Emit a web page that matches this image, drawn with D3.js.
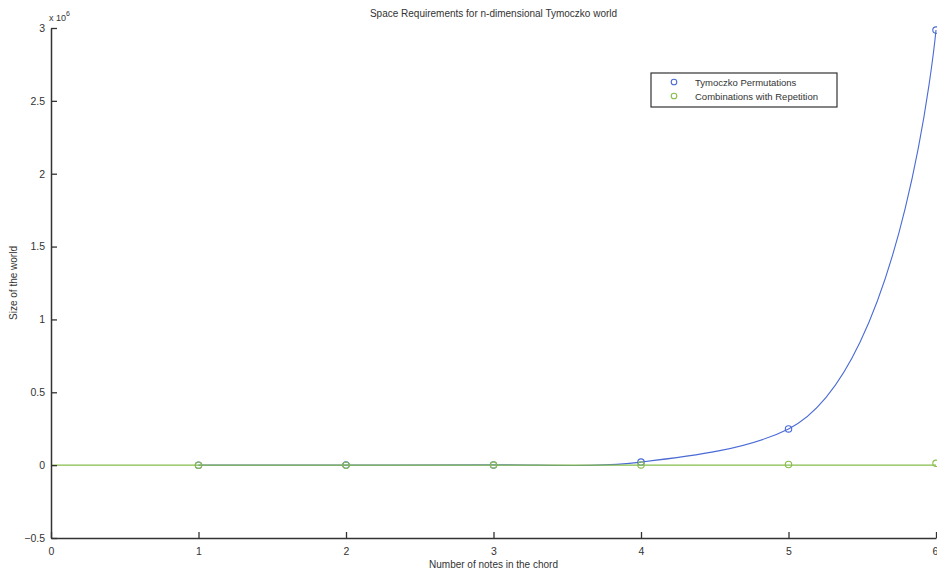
<!DOCTYPE html>
<html><head><meta charset="utf-8">
<script src="https://cdn.jsdelivr.net/npm/d3@7"></script>
<style>
body{margin:0;background:#fff;}
text{font-family:"Liberation Sans",Arial,sans-serif;fill:#333;}
</style></head>
<body>
<svg id="c" width="937" height="571"></svg>
<script>
const notes = [1, 2, 3, 4, 5, 6];
const permutations = [12, 144, 1728, 20736, 248832, 2985984];
const combinations = [12, 78, 364, 1365, 4368, 12376];
const xTicks = [0, 1, 2, 3, 4, 5, 6];
const yTicks = [-0.5, 0, 0.5, 1, 1.5, 2, 2.5, 3];
const seriesNames = ["Tymoczko Permutations", "Combinations with Repetition"];
const seriesColors = ["#4a6ad6", "#86bd4a"];
const title = "Space Requirements for n-dimensional Tymoczko world";
const xLabel = "Number of notes in the chord";
const yLabel = "Size of the world";

const svg = d3.select("#c");
const L = 51, R = 936, T = 28, B = 538;
const x = d3.scaleLinear().domain([0, 6]).range([L, R]);
const y = d3.scaleLinear().domain([-0.5e6, 3e6]).range([B, T]);

// data
const line = d3.line().x(d => x(d[0])).y(d => y(d[1])).curve(d3.curveCatmullRom.alpha(1));
const s1 = notes.map((n, i) => [n, permutations[i]]);
const s2 = notes.map((n, i) => [n, combinations[i]]);
const g = svg.append("g");
g.append("path").datum(s1).attr("d", line).attr("fill", "none").attr("stroke", seriesColors[0]).attr("stroke-width", 1.1);
g.selectAll(".m1").data(s1).join("circle").attr("cx", d => x(d[0])).attr("cy", d => y(d[1])).attr("r", 3.2)
  .attr("fill", "none").attr("stroke", seriesColors[0]).attr("stroke-width", 1.1);
g.append("path").datum([[0, 0], [6, 0]]).attr("d", d3.line().x(d => x(d[0])).y(d => y(d[1])))
  .attr("fill", "none").attr("stroke", seriesColors[1]).attr("stroke-width", 1.3);
g.selectAll(".m2").data(s2).join("circle").attr("cx", d => x(d[0])).attr("cy", d => y(d[1])).attr("r", 3.2)
  .attr("fill", "none").attr("stroke", seriesColors[1]).attr("stroke-width", 1.1);

// axes
const ax = svg.append("g").attr("transform", `translate(0,${B})`)
  .call(d3.axisBottom(x).tickValues(xTicks).tickFormat(d3.format("d")).tickSizeInner(-6).tickSizeOuter(0).tickPadding(10));
const ay = svg.append("g").attr("transform", `translate(${L},0)`)
  .call(d3.axisLeft(y).tickValues(yTicks.map(v => v * 1e6)).tickFormat(v => d3.format("")(v / 1e6)).tickSizeInner(-6).tickSizeOuter(0).tickPadding(8));
[ax, ay].forEach(a => {
  a.select(".domain").attr("stroke", "#333").attr("stroke-width", 1.5);
  a.selectAll(".tick line").attr("stroke", "#333").attr("stroke-width", 1.3);
  a.selectAll("text").attr("font-size", 10.5).attr("fill", "#333").attr("font-family", "Liberation Sans, Arial, sans-serif");
});
ay.selectAll(".tick text").attr("dx", 2);
ax.selectAll(".tick text").filter(d => d === 6).attr("dx", -1);

// exponent
const ex = svg.append("text").attr("x", L - 2).attr("y", 21).attr("font-size", 9);
ex.append("tspan").text("x 10");
ex.append("tspan").attr("dy", -5).attr("font-size", 7).text("6");

// title & labels
svg.append("text").attr("x", (L + R) / 2).attr("y", 17).attr("text-anchor", "middle").attr("font-size", 10).text(title);
svg.append("text").attr("x", (L + R) / 2).attr("y", 568).attr("text-anchor", "middle").attr("font-size", 10).text(xLabel);
svg.append("text").attr("transform", `translate(17,${(T + B) / 2}) rotate(-90)`).attr("text-anchor", "middle").attr("font-size", 10).text(yLabel);

// legend
const lg = svg.append("g").attr("transform", "translate(651,73)");
lg.append("rect").attr("width", 186).attr("height", 34).attr("fill", "#fff").attr("stroke", "#333").attr("stroke-width", 1.2);
seriesNames.forEach((nm, i) => {
  lg.append("circle").attr("cx", 23).attr("cy", 9 + i * 14).attr("r", 2.8).attr("fill", "none").attr("stroke", seriesColors[i]).attr("stroke-width", 1.1);
  lg.append("text").attr("x", 44).attr("y", 12.5 + i * 14).attr("font-size", 9.5).text(nm);
});
</script>
</body></html>
